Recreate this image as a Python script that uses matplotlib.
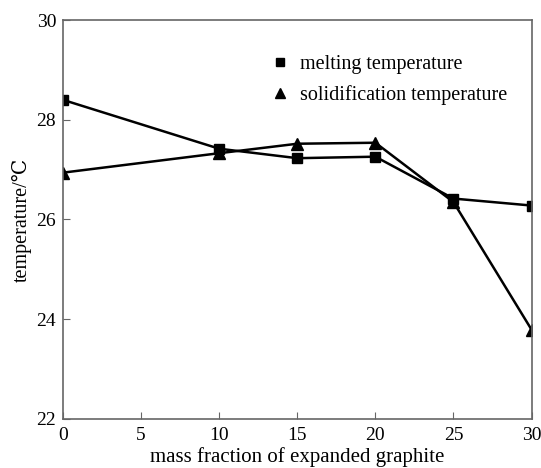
import matplotlib.pyplot as plt
from matplotlib.lines import Line2D

plt.rcParams['font.family'] = ['Liberation Serif', 'DejaVu Serif']

mass_fraction = [0, 10, 15, 20, 25, 30]
melting_temp = [28.40, 27.42, 27.23, 27.26, 26.42, 26.28]
solid_temp = [26.94, 27.33, 27.52, 27.54, 26.35, 23.79]

fig = plt.figure(figsize=(5.41, 4.68), dpi=100)
ax = fig.add_axes([0.1165, 0.105, 0.866, 0.852])

ax.plot(mass_fraction, melting_temp, color='black', lw=1.8, marker='s', ms=7)
ax.plot(mass_fraction, solid_temp, color='black', lw=1.8, marker='^', ms=8)

ax.set_xlim(0, 30)
ax.set_ylim(22, 30)
ax.set_xticks([0, 5, 10, 15, 20, 25, 30])
ax.set_yticks([22, 24, 26, 28, 30])
ax.tick_params(direction='in', length=5, labelsize=14, color='#666666')
ax.tick_params(axis='x', pad=6)
ax.tick_params(axis='y', pad=5)
for s in ax.spines.values():
    s.set_color('#666666')
    s.set_linewidth(1.2)

ax.set_xlabel('mass fraction of expanded graphite', fontsize=15, labelpad=2)
ax.set_ylabel('temperature/\u2103', fontsize=14.5, labelpad=3)

handles = [
    Line2D([], [], color='black', marker='s', ls='none', ms=6),
    Line2D([], [], color='black', marker='^', ls='none', ms=7),
]
ax.legend(handles, ['melting temperature', 'solidification temperature'],
          loc='upper left', bbox_to_anchor=(0.442, 0.912), frameon=False,
          borderaxespad=0, borderpad=0, fontsize=14.5, handlelength=1.0,
          handletextpad=0.5, labelspacing=0.55)

fig.savefig('out.png', dpi=100)
